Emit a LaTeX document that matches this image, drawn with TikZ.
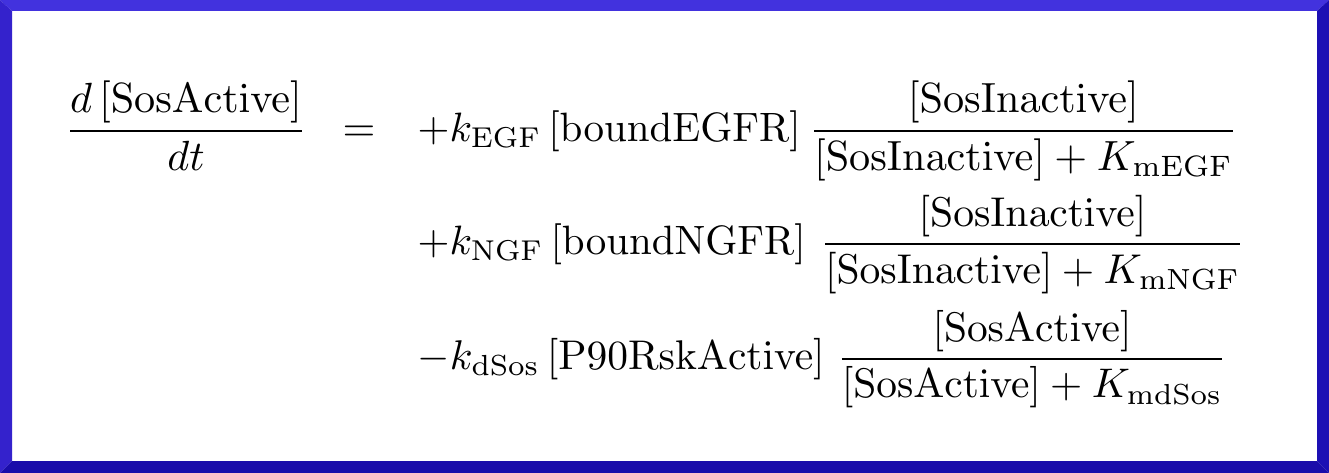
\documentclass[tikz,border=0pt]{standalone}
\usepackage{amsmath}
\definecolor{frtop}{RGB}{66,50,222}
\definecolor{frleft}{RGB}{52,34,204}
\definecolor{frright}{RGB}{28,16,180}
\definecolor{frbottom}{RGB}{26,12,170}
\begin{document}
\begin{tikzpicture}[x=1pt,y=-1pt,
  eq/.style={inner sep=0pt, outer sep=0pt, scale=4.22, anchor=base west},
  eqtwo/.style={inner sep=0pt, outer sep=0pt, scale=4.16, anchor=base west},
  eqthree/.style={inner sep=0pt, outer sep=0pt, scale=4.14, anchor=base west},
  pre/.style={inner sep=0pt, outer sep=0pt, scale=4.1, anchor=base west},
  prethree/.style={inner sep=0pt, outer sep=0pt, scale=4.15, anchor=base west}]
\useasboundingbox (0,0) rectangle (1329,473);
\fill[white] (0,0) rectangle (1329,473);
% bevelled frame
\fill[frtop] (0,0) -- (1329,0) -- (1317,11) -- (12,11) -- cycle;
\fill[frleft] (0,0) -- (12,11) -- (12,461) -- (0,473) -- cycle;
\fill[frright] (1329,0) -- (1329,473) -- (1317,461) -- (1317,11) -- cycle;
\fill[frbottom] (0,473) -- (12,461) -- (1317,461) -- (1329,473) -- cycle;
% equation
\node[eq] (lhs) at (65,141.5) {$\displaystyle \frac{d\left[\mathrm{SosActive}\right]}{dt}$};
\node[eq] (eqsign) at (342.7,141.5) {$=$};
\node[pre] (p1) at (417.7,141.5) {$\displaystyle +k_{\mathrm{EGF}}\left[\mathrm{boundEGFR}\right]$};
\node[eq] (f1) at (809,141.5) {$\displaystyle \frac{\left[\mathrm{SosInactive}\right]}{\left[\mathrm{SosInactive}\right]+K_{\mathrm{mEGF}}}$};
\node[pre] (p2) at (417.7,254.5) {$\displaystyle +k_{\mathrm{NGF}}\left[\mathrm{boundNGFR}\right]$};
\node[eqtwo] (f2) at (820,254.5) {$\displaystyle \frac{\left[\mathrm{SosInactive}\right]}{\left[\mathrm{SosInactive}\right]+K_{\mathrm{mNGF}}}$};
\node[prethree] (p3) at (417.7,369.5) {$\displaystyle -k_{\mathrm{dSos}}\left[\mathrm{P90RskActive}\right]$};
\node[eqthree] (f3) at (837,369.5) {$\displaystyle \frac{\left[\mathrm{SosActive}\right]}{\left[\mathrm{SosActive}\right]+K_{\mathrm{mdSos}}}$};
\end{tikzpicture}
\end{document}
